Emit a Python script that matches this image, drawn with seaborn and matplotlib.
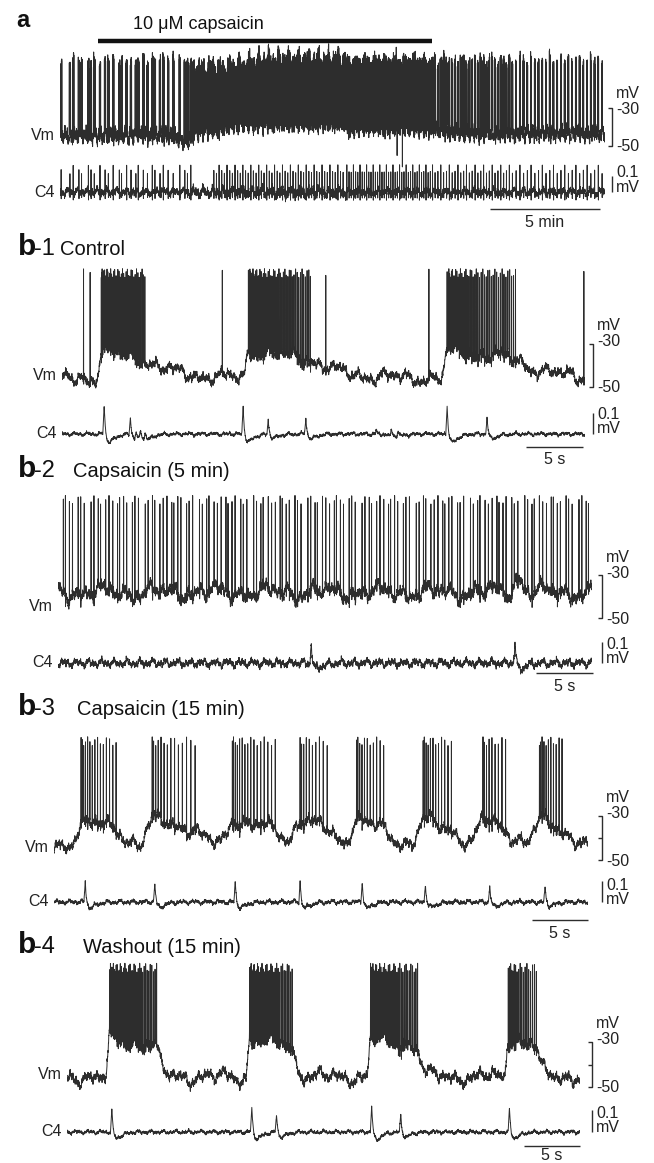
import numpy as np
import matplotlib
matplotlib.use("Agg")
import matplotlib.pyplot as plt
import seaborn as sns

sns.set_theme(style="white")
plt.rcParams["font.family"] = ["Liberation Sans", "DejaVu Sans"]

W, H = 654, 1163
INK = "#2d2d2d"

#----------------------DATA------------------------------------------------------
# a : whole recording, time in min
a_len = 24.8
a_caps = [1.75, 16.95]
a_burst_t = [0.05, 0.45, 0.6, 0.86, 0.98, 1.29, 1.41, 1.56, 1.82, 2.05, 2.2, 2.42, 2.7, 2.8,
             3.03, 3.23, 3.45, 3.56, 3.79, 3.98, 4.2, 4.32, 4.55, 4.7, 4.92, 5.15, 5.45, 5.68,
             5.8, 5.95]
a_burst_w = 0.06
a_tonic = [6.0, 13.0]
a_ep_start = [13.0, 17.0, 20.5]
a_ep_end = [17.0, 20.5, 24.8]
a_ep_period = [0.10, 0.13, 0.17]
a_ep_width = [0.07, 0.05, 0.04]
a_c4_tonic = [7.0, 13.0, 0.12]
a_rest = -44.5
a_shift_t = [5.2, 6.2, 7.6, 17.5]
a_shift_dv = [-2.5, 3.0, 3.0, -2.5]
a_artifact_t = [15.30, 15.34, 15.58]
a_artifact_v = [2.0, -55.0, -61.0]

# b-1 control, time in s
b1_len = 45.9
b1_rest = -46.0
b1_on = [3.45, 16.36, 33.8]
b1_off = [7.27, 21.8, 39.8]
b1_n = [42, 50, 48]
b1_single = [1.89, 2.47, 14.07, 23.15, 32.2, 45.8]
b1_c4_t = [3.7, 6.0, 6.5, 6.9, 7.3, 15.9, 18.1, 21.4, 27.6, 28.2, 28.9, 29.5, 33.8, 37.3]
b1_c4_amp = [0.14, 0.08, 0.03, 0.04, 0.03, 0.13, 0.07, 0.08, 0.02, 0.015, 0.02, 0.015, 0.14, 0.08]

# b-2 capsaicin 5 min
b2_len = 46.8
b2_rest = -38.0
b2_isi = [0.42, 0.18, 0.35, 0.27, 0.5, 0.22, 0.31, 0.6, 0.25, 0.38, 0.2, 0.45, 0.29, 0.33]
b2_bump_t = [40.4]
b2_bump_amp = [7.0]
b2_c4_t = [22.2, 40.05]
b2_c4_amp = [0.1, 0.1]

# b-3 capsaicin 15 min
b3_len = 47.3
b3_rest = -44.0
b3_on = [2.4, 8.7, 15.8, 21.8, 26.8, 32.7, 38.0, 43.0]
b3_off = [5.5, 12.5, 19.6, 24.2, 29.2, 35.2, 40.0, 45.0]
b3_n = [15, 14, 16, 10, 11, 12, 9, 11]
b3_c4_t = [2.77, 8.93, 16.05, 21.8, 27.3, 32.9, 38.6, 43.5]
b3_c4_amp = [0.1, 0.09, 0.1, 0.1, 0.1, 0.09, 0.08, 0.07]

# b-4 washout 15 min
b4_len = 45.8
b4_rest = -45.5
b4_on = [3.8, 16.3, 27.1, 39.4]
b4_off = [8.0, 20.1, 31.3, 41.9]
b4_n = [40, 36, 38, 20]
b4_c4_t = [4.0, 16.5, 18.7, 27.2, 29.8, 39.5]
b4_c4_amp = [0.1, 0.11, 0.08, 0.12, 0.08, 0.1]

#----------------------LAYOUT (pixels in the 654x1163 figure)---------------------
# y30/y50: rows of -30/-50 mV, c0/c1: rows of 0/0.1 mV, sx: scale bar column,
# tb/tt: time bar row and its label row, te: right end of the time bar,
# lm/l30: label rows for "mV" and "-30" relative to y30, l01/lmv: rows of "0.1"/"mV"
LAY = {
    "a":  dict(x0=60, x1=605, y30=108, y50=146, c0=192, c1=176, sx=612, tb=209, tt=222, te=600,
               lm=-14, l30=2, l01=172, lmv=187),
    "b1": dict(x0=62, x1=585, y30=344, y50=387, c0=434, c1=413, sx=593, tb=447, tt=460, te=583,
               lm=-18, l30=-2, l01=415, lmv=429),
    "b2": dict(x0=58, x1=592, y30=575, y50=618, c0=663, c1=642, sx=602, tb=673, tt=687, te=593,
               lm=-18, l30=-2, l01=645, lmv=659),
    "b3": dict(x0=54, x1=588, y30=816, y50=860, c0=902, c1=881, sx=602, tb=920, tt=934, te=588,
               lm=-18, l30=-2, l01=885, lmv=899),
    "b4": dict(x0=67, x1=580, y30=1042, y50=1087, c0=1132, c1=1110, sx=592, tb=1146, tt=1155, te=580,
               lm=-18, l30=-2, l01=1113, lmv=1128),
}
FS_SIDE = 11.5

# texture for membrane / nerve noise (fixed sum of sines, index based)
TEX_W = [0.013, 0.031, 0.057, 0.11, 0.23, 0.47, 0.91, 1.73, 2.61, 3.03]
TEX_A = [0.9, 0.8, 0.7, 0.55, 0.45, 0.35, 0.3, 0.28, 0.25, 0.25]
TEX_P = [0.3, 1.9, 4.1, 2.2, 5.3, 0.7, 3.6, 1.2, 4.8, 2.9]


def texture(n, amp, shift, first=0):
    i = np.arange(n) + shift
    s = np.zeros(n)
    ws, As, ps = TEX_W[first:], TEX_A[first:], TEX_P[first:]
    for w, a, p in zip(ws, As, ps):
        s += a * np.sin(w * i + p * (1 + shift % 7))
    return amp * s / np.sqrt(np.sum(np.square(As)) / 2)


def plateau(t, t0, t1, a0, a1, ramp, tau):
    d = np.zeros_like(t)
    up = (t >= t0 - ramp) & (t < t0)
    d[up] = a0 * (t[up] - (t0 - ramp)) / ramp
    on = (t >= t0) & (t <= t1)
    d[on] = a0 + (a1 - a0) * (t[on] - t0) / (t1 - t0)
    off = t > t1
    d[off] = a1 * np.exp(-(t[off] - t1) / tau)
    return d


def put_spikes(v, t, times, top, seed):
    idx = np.searchsorted(t, np.asarray(times))
    idx = idx[(idx > 0) & (idx < len(t) - 1)]
    k = np.arange(len(idx))
    v[idx + 1] -= 2.5
    v[idx] = top - 4.0 * (0.5 + 0.5 * np.sin(1.7 * k + seed))
    return v


def burst_times(t0, t1, n):
    k = np.arange(n) / (n - 1)
    return t0 + (t1 - t0) * k ** 1.35


def c4_wave(t, te, amp):
    d = np.zeros_like(t)
    r = (t >= te - 0.12) & (t < te)
    d[r] = amp * (t[r] - te + 0.12) / 0.12
    f = t >= te
    s = t[f] - te
    d[f] = amp * np.exp(-s / 0.12) - 0.3 * amp * (s / 0.35) * np.exp(1 - s / 0.35)
    return d


def make_axes(fig, x0, x1, y_hi, v_hi, y_lo, v_lo, lim, t_len):
    ppu = (y_lo - y_hi) / (v_hi - v_lo)
    top = y_hi - (lim[1] - v_hi) * ppu
    bottom = y_lo + (v_lo - lim[0]) * ppu
    ax = fig.add_axes([x0 / W, 1 - bottom / H, (x1 - x0) / W, (bottom - top) / H])
    ax.set_xlim(0, t_len)
    ax.set_ylim(*lim)
    ax.axis("off")
    ax.patch.set_alpha(0)
    return ax, ppu


def draw_panel(fig, key, t, vm, tc, c4, t_len, unit, mid_tick):
    L = LAY[key]
    tpp = t_len / (L["x1"] - L["x0"])  # time per pixel
    axv, ppv = make_axes(fig, L["x0"], L["x1"], L["y30"], -30, L["y50"], -50, (-68, 12), t_len)
    axc, ppc = make_axes(fig, L["x0"], L["x1"], L["c1"], 0.1, L["c0"], 0.0, (-0.2, 0.25), t_len)
    sns.lineplot(x=t, y=vm, ax=axv, color=INK, linewidth=0.7, estimator=None, sort=False, errorbar=None)
    sns.lineplot(x=tc, y=c4, ax=axc, color=INK, linewidth=0.7, estimator=None, sort=False, errorbar=None)
    for a in (axv, axc):
        a.set_xlim(0, t_len)
        a.set_xlabel("")
        a.set_ylabel("")
        a.axis("off")

    # Vm scale bracket
    xb = t_len + (L["sx"] - L["x1"]) * tpp
    tk = 4 * tpp
    kw = dict(color=INK, lw=1.0, clip_on=False, solid_capstyle="butt")
    axv.plot([xb - tk, xb, xb, xb - tk], [-30, -30, -50, -50], **kw)
    if mid_tick:
        axv.plot([xb - tk, xb], [-40, -40], **kw)
    tx = xb + 4 * tpp
    tkw = dict(fontsize=FS_SIDE, va="center", color="#222")
    axv.text(tx, -30 - L["l30"] / ppv, "-30", ha="left", **tkw)
    axv.text(tx, -30 - L["lm"] / ppv, "mV", ha="left", **tkw)
    axv.text(tx, -50 - 1 / ppv, "-50", ha="left", **tkw)
    axv.text(-5 * tpp, -44.5, "Vm", ha="right", **tkw)

    # C4 scale bar
    axc.plot([xb, xb], [0.0, 0.1], **kw)
    axc.text(tx, (L["c0"] - L["l01"]) / ppc, "0.1", ha="left", **tkw)
    axc.text(tx, (L["c0"] - L["lmv"]) / ppc, "mV", ha="left", **tkw)
    axc.text(-5 * tpp, 0.0, "C4", ha="right", **tkw)

    # time bar
    te = t_len - (L["x1"] - L["te"]) * tpp
    span = 5.0
    yb = -(L["tb"] - L["c0"]) / ppc
    axc.plot([te - span, te], [yb, yb], **kw)
    lab = "5 min" if unit == "min" else "5 s"
    yt = -(L["tt"] - L["c0"]) / ppc
    axc.text(te - span / 2, yt, lab, ha="center", **tkw)
    return axv, ppv


fig = plt.figure(figsize=(W / 100, H / 100), dpi=100)

#----------------------PANEL a---------------------------------------------------
dt_a = 0.004
ta = np.arange(0, a_len, dt_a)
na = len(ta)
base_a = np.full(na, a_rest)
for ts, dv in zip(a_shift_t, a_shift_dv):
    base_a += dv * 0.5 * (1 + np.tanh((ta - ts) / 0.25))
va = base_a + texture(na, 2.2, 5, first=3)
rough = texture(na, 2.0, 13, first=2)   # ragged spike tops

centers, widths = list(a_burst_t), [a_burst_w] * len(a_burst_t)
for s, e, p, w in zip(a_ep_start, a_ep_end, a_ep_period, a_ep_width):
    c = np.arange(s + p / 2, e, p)
    centers += list(c)
    widths += [w] * len(c)
for k, (c, w) in enumerate(zip(centers, widths)):
    idx = np.where(np.abs(ta - c) <= w / 2)[0]
    if len(idx) == 0:
        continue
    va[idx[::2]] = -5 + rough[idx[::2]]
ton = np.where((ta >= a_tonic[0]) & (ta < a_tonic[1]))[0]
top_env = -9 + 4.5 * 0.5 * (1 + np.tanh((ta[ton] - 8.5) / 0.8))
va[ton[::2]] = top_env[::2] + 1.5 * rough[ton[::2]]
va[ton[1::2]] += 2.0
for at, av in zip(a_artifact_t, a_artifact_v):
    va[np.searchsorted(ta, at)] = av

ca = texture(na, 0.014, 311, first=2)
ca[ton] *= 1.35
c4_ev = list(a_burst_t) + list(np.arange(a_c4_tonic[0], a_c4_tonic[1], a_c4_tonic[2]))
c4_ev += [c for c in centers if c >= a_tonic[1]]
for k, c in enumerate(c4_ev):
    i = np.searchsorted(ta, c)
    if 0 < i < na - 1:
        amp = 0.17 - 0.06 * (0.5 + 0.5 * np.sin(2.1 * k))
        ca[i] = amp
        ca[i + 1] = -0.3 * amp

axa, ppa = draw_panel(fig, "a", ta, va, ta, ca, a_len, "min", False)
ybar = -30 + (LAY["a"]["y30"] - 41) / ppa
axa.plot(a_caps, [ybar, ybar], color="#111", lw=3.2, clip_on=False, solid_capstyle="butt")
fig.text(133 / W, 1 - 29 / H, "10 \u03bcM capsaicin", fontsize=13, color="#111", va="baseline")
fig.text(16 / W, 1 - 27 / H, "a", fontsize=17, fontweight="bold", color="#111", va="baseline")

#----------------------PANELS b--------------------------------------------------
dt = 0.01


def bursting_trace(t_len, rest, on, off, n, singles, a0, a1, ramp, tau, top, shift, noise):
    t = np.arange(0, t_len, dt)
    v = np.full(len(t), rest) + texture(len(t), noise, shift)
    for s, e in zip(on, off):
        v += plateau(t, s, e, a0, a1, ramp, tau)
    times = list(singles)
    for s, e, m in zip(on, off, n):
        times += list(burst_times(s, e, m))
    return t, put_spikes(v, t, sorted(times), top, shift)


def c4_trace(t_len, ev_t, ev_amp, noise, shift):
    t = np.arange(0, t_len, dt)
    c = texture(len(t), noise, shift, first=2)
    for te, amp in zip(ev_t, ev_amp):
        c += c4_wave(t, te, amp)
    return t, c


t1, v1 = bursting_trace(b1_len, b1_rest, b1_on, b1_off, b1_n, b1_single, 14, 9, 0.4, 2.5, 5, 17, 1.9)
tc1, c1 = c4_trace(b1_len, b1_c4_t, b1_c4_amp, 0.005, 23)
draw_panel(fig, "b1", t1, v1, tc1, c1, b1_len, "s", False)

t2 = np.arange(0, b2_len, dt)
v2 = np.full(len(t2), b2_rest) + texture(len(t2), 2.4, 41)
for bt, ba in zip(b2_bump_t, b2_bump_amp):
    v2 += ba * np.exp(-np.square((t2 - bt) / 0.5))
sp2 = np.cumsum(np.resize(b2_isi, 200)) + 0.05
sp2 = sp2[sp2 < b2_len - 0.05]
v2 = put_spikes(v2, t2, sp2, 7, 41)
tc2, c2 = c4_trace(b2_len, b2_c4_t, b2_c4_amp, 0.011, 53)
draw_panel(fig, "b2", t2, v2, tc2, c2, b2_len, "s", False)

t3, v3 = bursting_trace(b3_len, b3_rest, b3_on, b3_off, b3_n, [], 12, 8, 1.0, 1.2, 6, 67, 1.9)
tc3, c3 = c4_trace(b3_len, b3_c4_t, b3_c4_amp, 0.006, 71)
draw_panel(fig, "b3", t3, v3, tc3, c3, b3_len, "s", True)

t4, v4 = bursting_trace(b4_len, b4_rest, b4_on, b4_off, b4_n, [], 18, 14, 0.3, 0.4, 5, 89, 1.9)
tc4, c4 = c4_trace(b4_len, b4_c4_t, b4_c4_amp, 0.005, 97)
draw_panel(fig, "b4", t4, v4, tc4, c4, b4_len, "s", True)

# panel titles
titles = [("1", "Control", 255, 60), ("2", "Capsaicin (5 min)", 477, 73),
          ("3", "Capsaicin (15 min)", 715, 77), ("4", "Washout (15 min)", 953, 83)]
for num, desc, yb, xd in titles:
    fig.text(18 / W, 1 - yb / H, "b", fontsize=21.5, fontweight="bold", color="#111", va="baseline")
    fig.text(34 / W, 1 - yb / H, "-" + num, fontsize=17, color="#111", va="baseline")
    fig.text(xd / W, 1 - yb / H, desc, fontsize=14.5, color="#111", va="baseline")

fig.savefig("out.png", dpi=100)
